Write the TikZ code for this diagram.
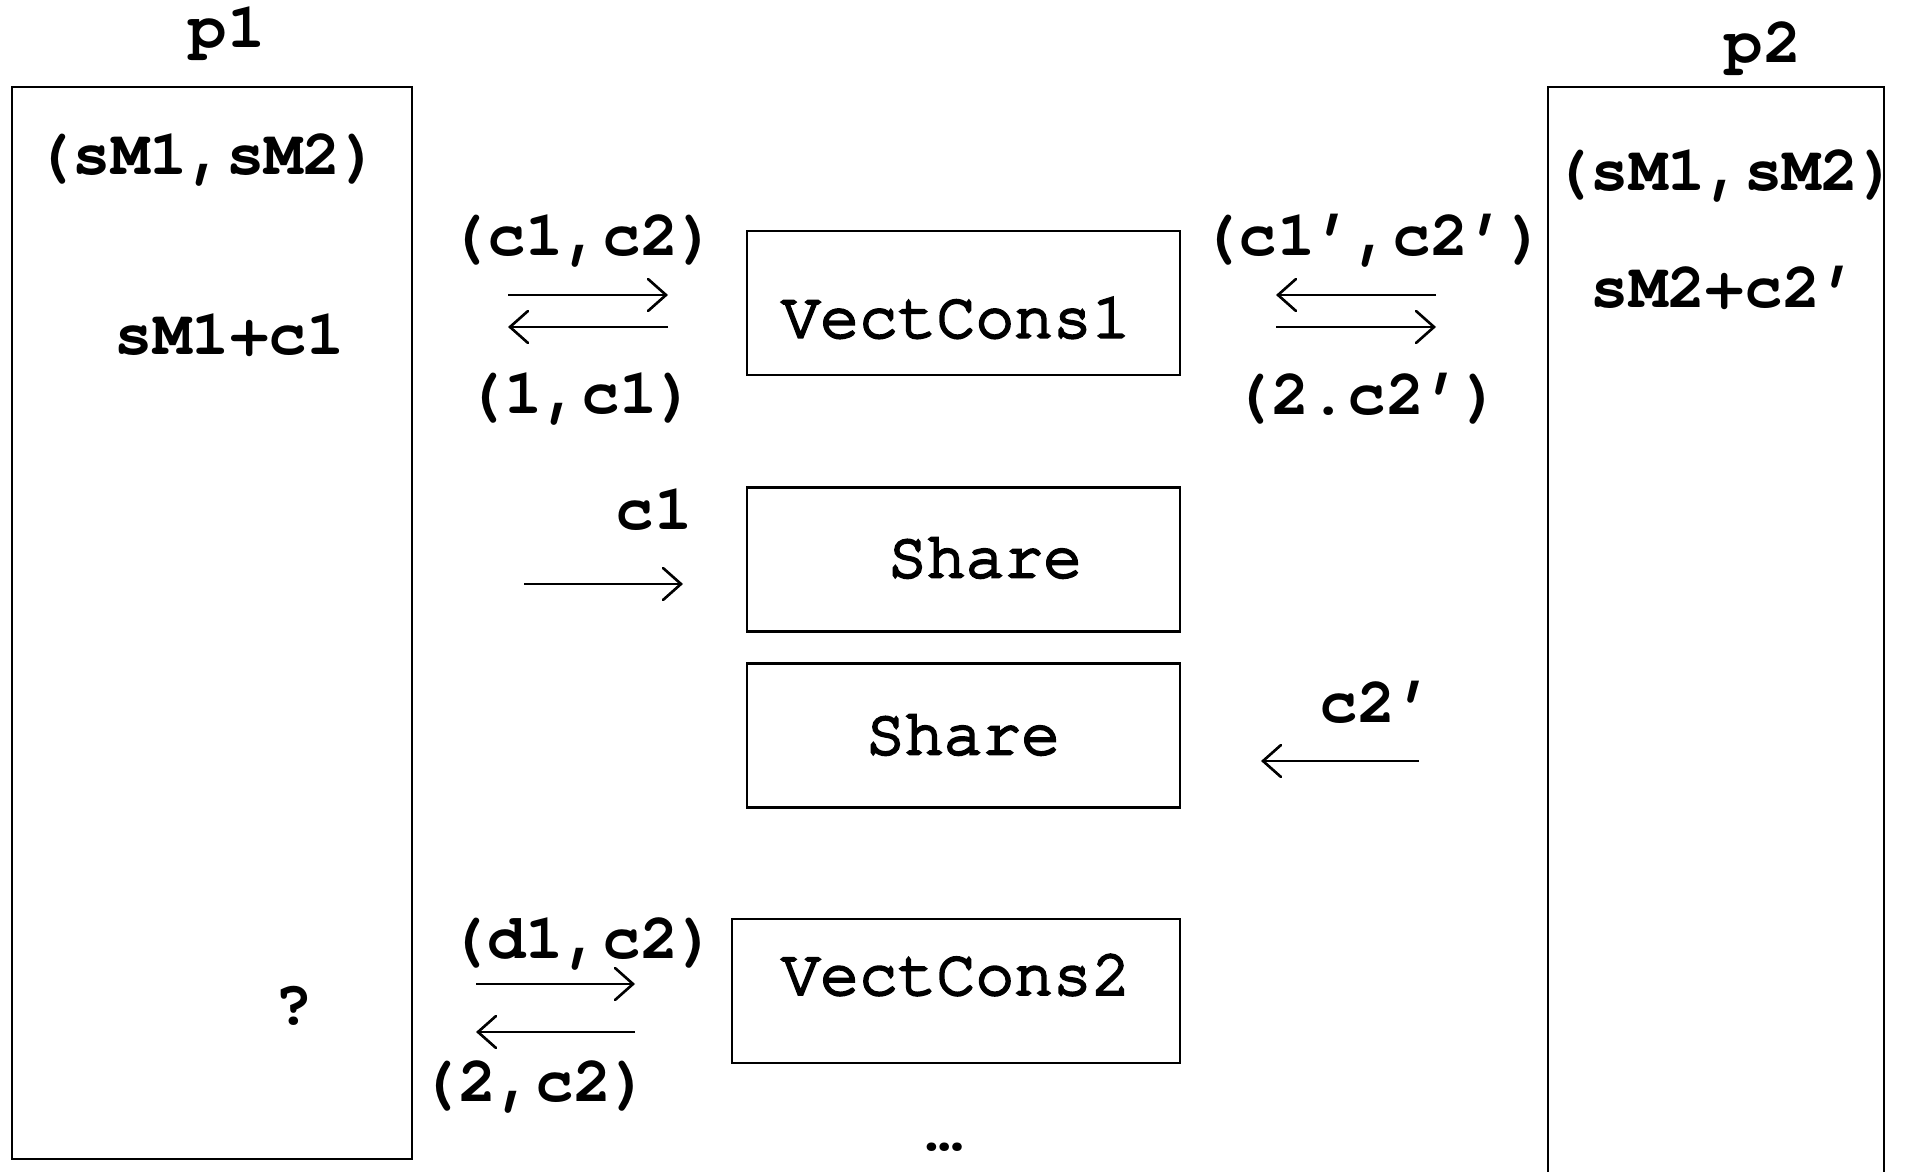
\documentclass[tikz,border=0pt]{standalone}
\usepackage{fontspec}
\setmonofont{texgyrecursor}[Extension=.otf, UprightFont=*-regular, BoldFont=*-bold]
\newfontfamily\modfont{texgyrecursor}[Extension=.otf, UprightFont=*-regular, FakeBold=4]
\usetikzlibrary{arrows.meta,positioning}

\begin{document}
\begin{tikzpicture}[
		lbl/.style={font=\fontsize{18.2pt}{20pt}\selectfont\ttfamily\bfseries, inner sep=0pt},
		modtxt/.style={font=\fontsize{18.4pt}{20pt}\selectfont\modfont\bfseries, inner sep=0pt},
		module/.style={draw, line width=0.6pt, minimum width=4.33cm, minimum height=1.44cm, inner sep=0pt},
		msg/.style={-{Straight Barb[length=1.8mm,width=3.2mm,line cap=round]}, line width=0.75pt}
	]
	\useasboundingbox (0,0) rectangle (19.05,11.72);

	% Party p1
	\node[lbl] (p1) at (2.27,11.38) {p1};
	\node[draw, line width=0.6pt, minimum width=4cm, minimum height=10.72cm, inner sep=0pt] (p1box) at (2.12,5.49) {};
	\node[lbl] (p1shares) at (2.07,10.12) {(sM1,sM2)};
	\node[lbl] (p1sum) at (2.30,8.37) {sM1+c1};
	\node[lbl] (p1what) at (2.94,1.66) {?};

	% Party p2 (box runs off the bottom)
	\node[lbl] (p2) at (17.63,11.23) {p2};
	\draw[line width=0.6pt] (15.48,0) |- (18.84,10.85) -- (18.84,0);
	\node[lbl] (p2shares) at (17.25,9.96) {(sM1,sM2)};
	\node[lbl] (p2sum) at (17.25,8.84) {sM2+c2’};

	% Functionalities in the middle
	\node[module] (vc1) at (9.635,8.69) {};
	\node[modtxt] (vc1txt) at (9.56,8.54) {VectCons1};
	\node[module] (sh1) at (9.635,6.125) {};
	\node[modtxt] (sh1txt) at (9.85,6.14) {Share};
	\node[module] (sh2) at (9.635,4.365) {};
	\node[modtxt] (sh2txt) at (9.63,4.37) {Share};
	\node[module, minimum width=4.48cm] (vc2) at (9.56,1.81) {};
	\node[modtxt] (vc2txt) at (9.56,1.97) {VectCons2};
	\node[lbl] (more) at (9.45,0.25) {…};

	% Messages between p1 and VectCons1
	\node[lbl] (in1) at (5.83,9.31) {(c1,c2)};
	\node[lbl] (out1) at (5.81,7.73) {(1,c1)};
	\coordinate (a1) at (5.08,8.77);
	\coordinate (b1) at (6.68,8.77);
	\coordinate (a2) at (5.08,8.45);
	\coordinate (b2) at (6.68,8.45);
	\draw[msg] (a1) -- (b1);
	\draw[msg] (b2) -- (a2);

	% Messages between VectCons1 and p2
	\node[lbl] (in2) at (13.73,9.31) {(c1’,c2’)};
	\node[lbl] (out2) at (13.67,7.73) {(2.c2’)};
	\coordinate (a3) at (12.76,8.77);
	\coordinate (b3) at (14.36,8.77);
	\coordinate (a4) at (12.76,8.45);
	\coordinate (b4) at (14.36,8.45);
	\draw[msg] (b3) -- (a3);
	\draw[msg] (a4) -- (b4);

	% Sharing inputs
	\node[lbl] (sh1in) at (6.54,6.62) {c1};
	\coordinate (a5) at (5.24,5.88);
	\coordinate (b5) at (6.83,5.88);
	\draw[msg] (a5) -- (b5);
	\node[lbl] (sh2in) at (13.77,4.70) {c2’};
	\coordinate (a6) at (12.61,4.11);
	\coordinate (b6) at (14.19,4.11);
	\draw[msg] (b6) -- (a6);

	% Messages between p1 and VectCons2
	\node[lbl] (in3) at (5.83,2.28) {(d1,c2)};
	\node[lbl] (out3) at (5.35,0.85) {(2,c2)};
	\coordinate (a7) at (4.76,1.88);
	\coordinate (b7) at (6.35,1.88);
	\coordinate (a8) at (4.76,1.40);
	\coordinate (b8) at (6.35,1.40);
	\draw[msg] (a7) -- (b7);
	\draw[msg] (b8) -- (a8);
\end{tikzpicture}
\end{document}
